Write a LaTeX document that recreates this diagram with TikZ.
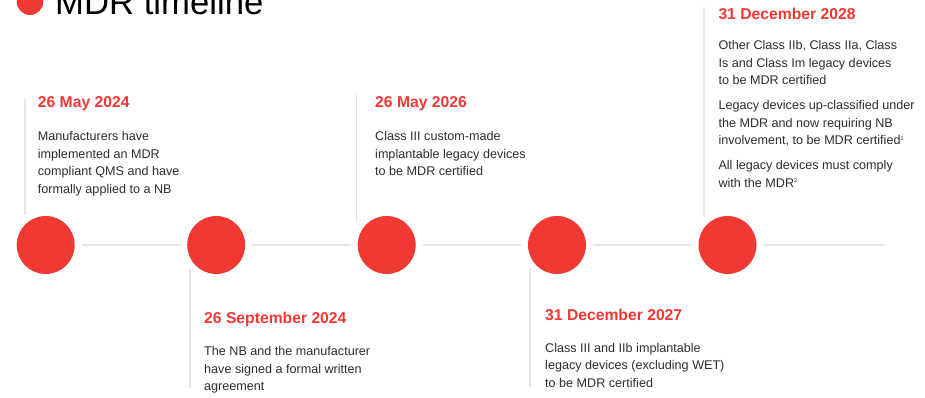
\documentclass[tikz,border=0pt]{standalone}
\usepackage{fontspec}
\setmainfont{Liberation Sans}
\definecolor{mdrred}{RGB}{240,57,51}
\definecolor{railgray}{RGB}{229,229,229}
\definecolor{bodygray}{RGB}{45,45,45}
\newcommand{\fnmark}[1]{\raisebox{4.5pt}{\fontsize{5.5}{6}\selectfont #1}}

\begin{document}
\begin{tikzpicture}[x=1pt, y=-1pt,
	milestone/.style={circle, fill=mdrred, minimum size=58pt, inner sep=0pt},
	rail/.style={draw=railgray, line width=2pt, shorten <=7pt, shorten >=7pt},
	marker/.style={draw=railgray, line width=1.5pt},
	datehead/.style={anchor=base west, inner sep=0pt, text=mdrred, font=\fontsize{15.7}{18}\selectfont\bfseries},
	bodytext/.style={anchor=base west, inner sep=0pt, align=left, text=bodygray, font=\fontsize{12.6}{17.5}\selectfont}]
		%%%%% START %%%%%
		
		\useasboundingbox (0, 0) rectangle (925, 398);
		
		\node[circle, fill=mdrred, minimum size=26.6pt, inner sep=0pt] (titledot) at (30, 1.7) {};
		\node[anchor=base west, inner sep=0pt, font=\fontsize{34.7}{40}\selectfont] (title) at (55, 15) {MDR timeline};
		
		\node[milestone] (m1) at (45.7, 245) {};
		\node[milestone] (m2) at (216.2, 245) {};
		\node[milestone] (m3) at (386.7, 245) {};
		\node[milestone] (m4) at (557, 245) {};
		\node[milestone] (m5) at (727.5, 245) {};
		
		\coordinate (railend) at (884, 245);
		\draw[rail] (m1) -- (m2);
		\draw[rail] (m2) -- (m3);
		\draw[rail] (m3) -- (m4);
		\draw[rail] (m4) -- (m5);
		\draw[rail, shorten >=0pt] (m5) -- (railend);
		
		\draw[marker] (25, 99) -- (25, 215);
		\draw[marker] (190, 269) -- (190, 388);
		\draw[marker] (356.7, 94) -- (356.7, 222);
		\draw[marker] (530, 268) -- (530, 387);
		\draw[marker] (704, 7) -- (704, 217);
		
		% body nodes sit on the baseline of their last line
		\node[datehead] (date1) at (37.7, 107.7) {26 May 2024};
		\node[bodytext] (text1) at (37.7, 193.3) {Manufacturers have\\implemented an MDR\\compliant QMS and have\\formally applied to a NB};
		
		\node[datehead] (date2) at (204, 323.3) {26 September 2024};
		\node[bodytext] (text2) at (204, 390.7) {The NB and the manufacturer\\have signed a formal written\\agreement};
		
		\node[datehead] (date3) at (375, 107.7) {26 May 2026};
		\node[bodytext] (text3) at (375, 175.7) {Class III custom-made\\implantable legacy devices\\to be MDR certified};
		
		\node[datehead] (date4) at (545, 320) {31 December 2027};
		\node[bodytext] (text4) at (545, 387.3) {Class III and IIb implantable\\legacy devices (excluding WET)\\to be MDR certified};
		
		\node[datehead] (date5) at (718.3, 20) {31 December 2028};
		\node[bodytext] (text5) at (718.3, 187.3) {Other Class IIb, Class IIa, Class\\Is and Class Im legacy devices\\to be MDR certified\\[7.5pt]Legacy devices up-classified under\\the MDR and now requiring NB\\involvement, to be MDR certified\fnmark{1}\\[7.5pt]All legacy devices must comply\\with the MDR\fnmark{2}};
		
		%%%%% END %%%%%
	\end{tikzpicture}
\end{document}
